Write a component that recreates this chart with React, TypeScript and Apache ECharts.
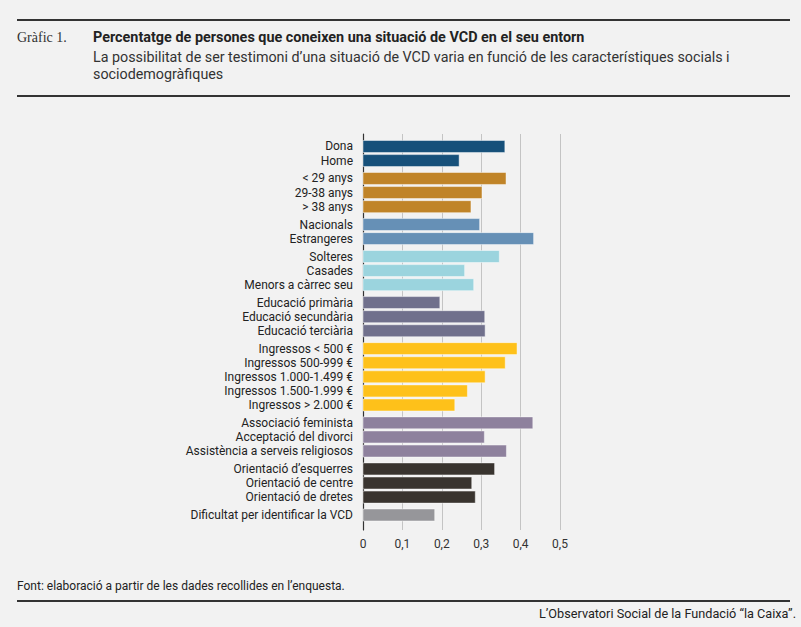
import React, { useEffect, useRef } from "react";
import * as echarts from "echarts";

// rows of the chart, top to bottom
const labels = [
  "Dona", "Home",
  "< 29 anys", "29-38 anys", "> 38 anys",
  "Nacionals", "Estrangeres",
  "Solteres", "Casades", "Menors a càrrec seu",
  "Educació primària", "Educació secundària", "Educació terciària",
  "Ingressos < 500 €", "Ingressos 500-999 €", "Ingressos 1.000-1.499 €", "Ingressos 1.500-1.999 €", "Ingressos > 2.000 €",
  "Associació feminista", "Acceptació del divorci", "Assistència a serveis religiosos",
  "Orientació d’esquerres", "Orientació de centre", "Orientació de dretes",
  "Dificultat per identificar la VCD",
];

const values = [
  0.36, 0.244,
  0.363, 0.302, 0.274,
  0.296, 0.433,
  0.346, 0.258, 0.281,
  0.195, 0.309, 0.31,
  0.391, 0.361, 0.31, 0.265, 0.233,
  0.431, 0.308, 0.364,
  0.334, 0.276, 0.285,
  0.182,
];

// group each row belongs to
const groups = [
  0, 0,
  1, 1, 1,
  2, 2,
  3, 3, 3,
  4, 4, 4,
  5, 5, 5, 5, 5,
  6, 6, 6,
  7, 7, 7,
  8,
];

const groupColors = [
  "#16507a", "#c08428", "#6690b6", "#9bd4de", "#70708c",
  "#fec11a", "#8e819d", "#39342f", "#96969a",
];

const xTicks = [0, 0.1, 0.2, 0.3, 0.4, 0.5];

const GROUP_GAP = 0.27;

const title = "Percentatge de persones que coneixen una situació de VCD en el seu entorn";
const subtitle1 = "La possibilitat de ser testimoni d’una situació de VCD varia en funció de les característiques socials i";
const subtitle2 = "sociodemogràfiques";
const source = "Font: elaboració a partir de les dades recollides en l’enquesta.";
const credit = "L’Observatori Social de la Fundació “la Caixa”.";

const App = () => {
  const chartRef = useRef(null);

  useEffect(() => {
    const chart = echarts.init(chartRef.current, null, { renderer: "svg" });

    const rows = values.map((v, i) => [v, i + groups[i] * GROUP_GAP, groups[i]]);
    const last = rows[rows.length - 1][1];

    const option = {
      animation: false,
      backgroundColor: "#f2f2f2",
      grid: { left: 363, right: 241, top: 134, bottom: 97 },
      xAxis: {
        type: "value",
        min: 0,
        max: 0.5,
        interval: 0.1,
        axisLine: { show: false },
        axisTick: { show: false },
        splitLine: { lineStyle: { color: "#c4c4c4", width: 1 } },
        axisLabel: {
          color: "#333",
          fontFamily: "Roboto",
          fontSize: 12,
          margin: 8,
          formatter: (v: number) =>
            xTicks.includes(Math.round(v * 10) / 10) ? (v === 0 ? "0" : v.toFixed(1).replace(".", ",")) : "",
        },
      },
      yAxis: {
        type: "value",
        inverse: true,
        min: -0.887,
        max: last + 1.065,
        axisLine: { show: true, onZero: false, lineStyle: { color: "#333", width: 1.2 } },
        axisTick: { show: false },
        axisLabel: { show: false },
        splitLine: { show: false },
      },
      graphic: [
        { type: "line", shape: { x1: 17, y1: 20, x2: 790, y2: 20 }, style: { stroke: "#333", lineWidth: 2 } },
        {
          type: "text", x: 17, y: 37,
          style: { text: "Gràfic 1.", fill: "#333", font: "14px 'Liberation Serif'", verticalAlign: "middle" },
        },
        {
          type: "text", x: 93, y: 37,
          style: { text: title, fill: "#222", font: "bold 14.4px Roboto", verticalAlign: "middle" },
        },
        {
          type: "text", x: 93, y: 57,
          style: { text: subtitle1, fill: "#333", font: "14.3px Roboto", verticalAlign: "middle" },
        },
        {
          type: "text", x: 93, y: 74,
          style: { text: subtitle2, fill: "#333", font: "14.3px Roboto", verticalAlign: "middle" },
        },
        { type: "line", shape: { x1: 17, y1: 96, x2: 790, y2: 96 }, style: { stroke: "#333", lineWidth: 2 } },
        {
          type: "text", x: 17, y: 586,
          style: { text: source, fill: "#222", font: "12px Roboto", verticalAlign: "middle" },
        },
        { type: "line", shape: { x1: 17, y1: 601, x2: 790, y2: 601 }, style: { stroke: "#333", lineWidth: 2 } },
        {
          type: "text", x: 796, y: 613,
          style: { text: credit, fill: "#222", font: "12.7px Roboto", verticalAlign: "middle", align: "right" },
        },
      ],
      series: [
        {
          type: "custom",
          data: rows,
          encode: { x: 0, y: 1 },
          clip: false,
          renderItem: (params: any, api: any) => {
            const v = api.value(0);
            const p = api.value(1);
            const g = api.value(2);
            const start = api.coord([0, p]);
            const end = api.coord([v, p]);
            const h = api.size([0, 1])[1] * 0.85;
            return {
              type: "group",
              children: [
                {
                  type: "rect",
                  shape: { x: start[0], y: start[1] - h / 2, width: end[0] - start[0], height: h },
                  style: { fill: groupColors[g], stroke: "rgba(255,255,255,0.45)", lineWidth: 1 },
                },
                {
                  type: "text",
                  style: {
                    x: start[0] - 10,
                    y: start[1],
                    text: labels[params.dataIndex],
                    align: "right",
                    verticalAlign: "middle",
                    fill: "#222",
                    font: "12px Roboto",
                  },
                },
              ],
            };
          },
        },
      ],
    };

    chart.setOption(option);

    return () => {
      chart.dispose();
    };
  }, []);

  return (
    <div
      ref={chartRef}
      style={{ position: "fixed", left: 0, top: 0, width: 801, height: 627 }}
    />
  );
};

export default App;
